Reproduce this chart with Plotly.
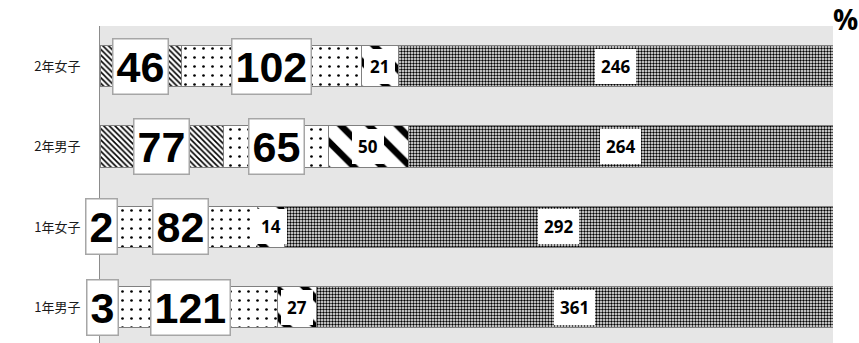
import plotly.graph_objects as go

categories = ["1年男子", "1年女子", "2年男子", "2年女子"]
series_a = [3, 2, 77, 46]
series_b = [121, 82, 65, 102]
series_c = [27, 14, 50, 21]
series_d = [361, 292, 264, 246]

all_series = [series_a, series_b, series_c, series_d]
totals = [sum(v) for v in zip(*all_series)]
pcts = [[v / t * 100 for v, t in zip(s, totals)] for s in all_series]

patterns = [
    dict(shape="\\", size=4, solidity=0.4, fgcolor="black", bgcolor="white", fgopacity=1),
    dict(shape=".", size=9, solidity=0.07, fgcolor="black", bgcolor="white", fgopacity=1),
    dict(shape="\\", size=20, solidity=0.33, fgcolor="black", bgcolor="white", fgopacity=1),
    dict(shape=".", size=3, solidity=0.5, fgcolor="black", bgcolor="white", fgopacity=1),
]

fig = go.Figure()
for i, p in enumerate(pcts):
    fig.add_trace(go.Bar(
        y=categories, x=p, orientation="h",
        marker=dict(color="white", pattern=patterns[i],
                    line=dict(color="#808080", width=1)),
        hoverinfo="skip", showlegend=False,
    ))

annotations = []
for ci, cat in enumerate(categories):
    cum = 0
    for si in range(4):
        w = pcts[si][ci]
        mid = cum + w / 2
        cum += w
        if si < 2:
            annotations.append(dict(
                x=mid, y=cat, xref="x", yref="y", text=str(all_series[si][ci]),
                showarrow=False,
                font=dict(family="Liberation Sans, Arial", size=43,
                          color="black", weight="bold"),
                bgcolor="white", bordercolor="#a6a6a6", borderwidth=1.5, borderpad=3,
            ))
        else:
            annotations.append(dict(
                x=mid, y=cat, xref="x", yref="y", text=str(all_series[si][ci]),
                showarrow=False,
                font=dict(family="Open Sans, Noto Sans, Arial", size=17,
                          color="black", weight="bold"),
                bgcolor="white", borderwidth=0, borderpad=6,
            ))

annotations.append(dict(
    x=1.0177, y=1.022, xref="paper", yref="paper", text="%", showarrow=False,
    xanchor="center", yanchor="middle",
    font=dict(family="Open Sans, Noto Sans, Arial", size=28, color="black", weight="bold"),
))

fig.update_layout(
    width=859, height=343,
    margin=dict(l=100, r=26, t=26, b=0, pad=0, autoexpand=False),
    barmode="stack", bargap=0.486,
    plot_bgcolor="#e6e6e6", paper_bgcolor="white",
    annotations=annotations,
    xaxis=dict(range=[0, 100], visible=False, fixedrange=True),
    yaxis=dict(range=[-0.444, 3.5], showline=True, linecolor="#8c8c8c", linewidth=1,
               showgrid=False, ticks="", ticklabelstandoff=16, automargin=False,
               tickfont=dict(family="Noto Sans CJK JP", size=13, color="#1a1a1a"),
               fixedrange=True),
)

fig.write_html("out.html", config={"displayModeBar": False},
               post_script="document.body.style.margin='0px';")
